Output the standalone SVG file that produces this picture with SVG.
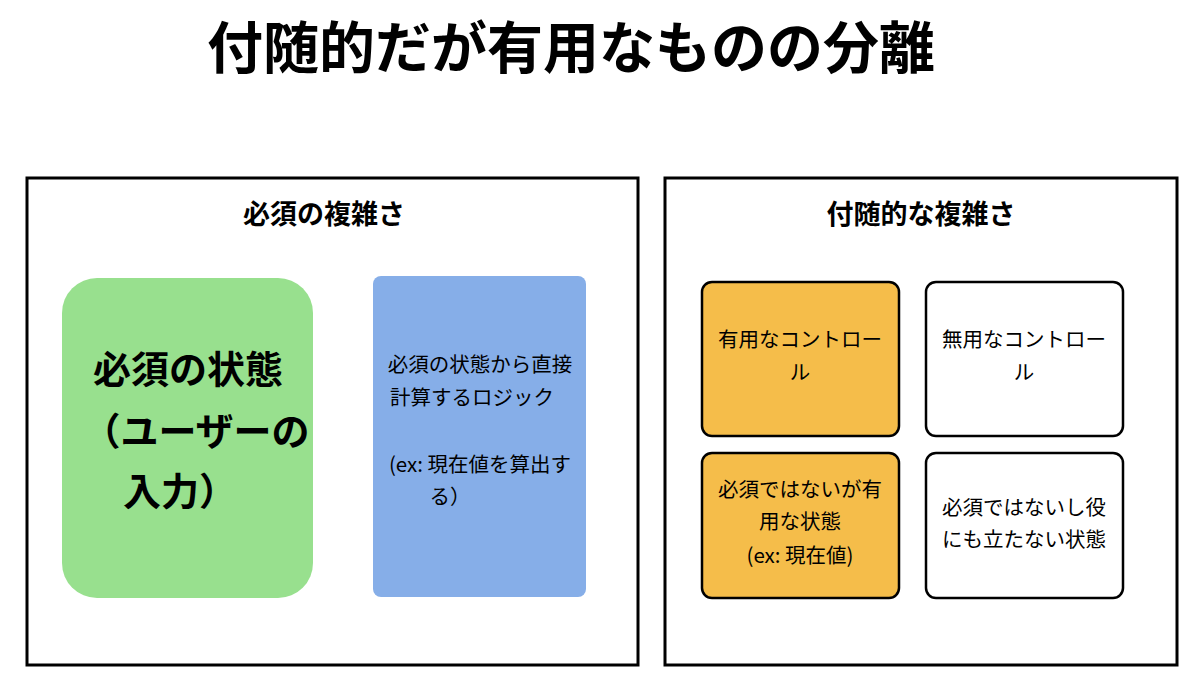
<svg xmlns="http://www.w3.org/2000/svg" width="1200" height="685" viewBox="0 0 1200 685">
<style>
text{font-family:"Noto Sans CJK JP","Noto Sans",sans-serif;text-anchor:middle;fill:#000}
.frame{fill:#fff;stroke:#000;stroke-width:3}
.card{stroke:#000;stroke-width:2.5}
.t{font-size:20.5px}
.h{font-size:27px;font-weight:bold}
.g{font-size:38px;font-weight:bold}
</style>
<rect width="1200" height="685" fill="#fff"/>
<text x="571" y="68" font-size="56" font-weight="bold">付随的だが有用なものの分離</text>
<g id="essential">
<rect class="frame" x="27" y="178" width="611" height="487"/>
<text class="h" x="324" y="224">必須の複雑さ</text>
</g>
<g id="state">
<rect x="62" y="278" width="251" height="320" rx="35" fill="#98E08E"/>
<text class="g" x="188" y="383">必須の状態</text>
<text class="g" x="196" y="445">（ユーザーの</text>
<text class="g" x="180" y="505">入力）</text>
</g>
<g id="logic">
<rect x="373" y="276" width="213" height="321" rx="8" fill="#86AEE8"/>
<text class="t" x="480" y="372">必須の状態から直接</text>
<text class="t" x="472" y="405">計算するロジック</text>
<text class="t" x="480" y="472">(ex: 現在値を算出す</text>
<text class="t" x="450" y="504">る）</text>
</g>
<g id="accidental">
<rect class="frame" x="665" y="178" width="512" height="487"/>
<text class="h" x="921" y="224">付随的な複雑さ</text>
</g>
<g id="useful-control">
<rect class="card" x="702" y="282" width="197" height="154" rx="10" fill="#F5BD4A"/>
<text class="t" x="800" y="347">有用なコントロー</text>
<text class="t" x="800" y="380">ル</text>
</g>
<g id="useless-control">
<rect class="card" x="926" y="282" width="197" height="154" rx="10" fill="#fff"/>
<text class="t" x="1024" y="347">無用なコントロー</text>
<text class="t" x="1024" y="380">ル</text>
</g>
<g id="useful-state">
<rect class="card" x="702" y="453" width="197" height="145" rx="10" fill="#F5BD4A"/>
<text class="t" x="800" y="497">必須ではないが有</text>
<text class="t" x="800" y="529">用な状態</text>
<text class="t" x="800" y="563">(ex: 現在値)</text>
</g>
<g id="useless-state">
<rect class="card" x="926" y="453" width="197" height="145" rx="10" fill="#fff"/>
<text class="t" x="1024" y="515">必須ではないし役</text>
<text class="t" x="1024" y="547">にも立たない状態</text>
</g>
<g id="connectors"/>
</svg>
